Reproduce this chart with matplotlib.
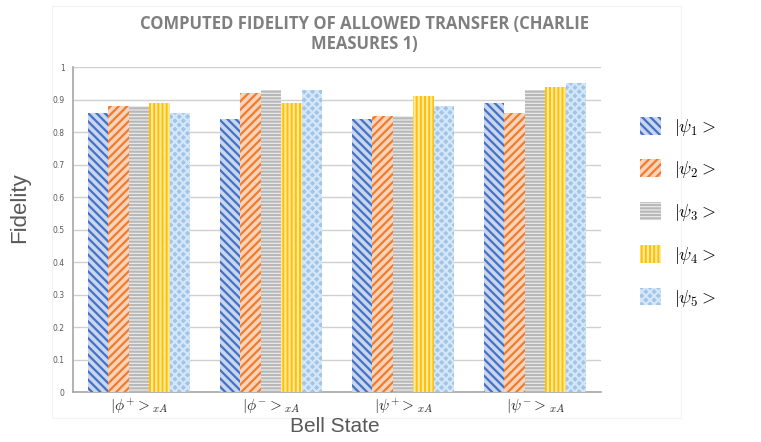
import matplotlib
matplotlib.use("Agg")
import matplotlib.pyplot as plt
from matplotlib.patches import Rectangle
import numpy as np

categories = [r"$|\phi^{+} >_{xA}$", r"$|\phi^{-} >_{xA}$", r"$|\psi^{+} >_{xA}$", r"$|\psi^{-} >_{xA}$"]
series_labels = [r"$|\psi_1 >$", r"$|\psi_2 >$", r"$|\psi_3 >$", r"$|\psi_4 >$", r"$|\psi_5 >$"]
psi1 = [0.86, 0.84, 0.84, 0.89]
psi2 = [0.88, 0.92, 0.85, 0.86]
psi3 = [0.88, 0.93, 0.85, 0.93]
psi4 = [0.89, 0.89, 0.91, 0.94]
psi5 = [0.86, 0.93, 0.88, 0.95]
yticks = [0, 0.1, 0.2, 0.3, 0.4, 0.5, 0.6, 0.7, 0.8, 0.9, 1]

plt.rcParams["mathtext.fontset"] = "cm"
plt.rcParams["hatch.linewidth"] = 1.6

# fill patterns for the five series
styles = [
    dict(face="#C9D6EE", hatch="\\\\\\\\", edge="#4472C4"),
    dict(face="#FBD3B8", hatch="////", edge="#ED7D31"),
    dict(face="#EFEFEF", hatch="-----", edge="#B8B8B8"),
    dict(face="#FFC000", hatch="||||", edge="#FFE8A0"),
    dict(face="#9FC5E8", hatch="xxxx", edge="#D4E6F7"),
]

fig = plt.figure(figsize=(7.61, 4.42), dpi=100)

# faint chart-area frame
fig.patches.append(Rectangle((52 / 761, 1 - 418 / 442), (681 - 52) / 761, (418 - 6) / 442,
                             transform=fig.transFigure, fill=False,
                             edgecolor="#F3F3F3", linewidth=0.8, zorder=0))

ax = fig.add_axes([0.096, 0.113, 0.694, 0.735])

x = np.arange(len(categories))
width = 0.155
series = [psi1, psi2, psi3, psi4, psi5]
handles = []
for i, (vals, st) in enumerate(zip(series, styles)):
    offs = (i - 2) * width
    bars = ax.bar(x + offs, vals, width, color=st["face"], hatch=st["hatch"],
                  edgecolor=st["edge"], linewidth=0, label=series_labels[i], zorder=3)
    handles.append(bars)

ax.set_xlim(-0.5, 3.5)
ax.set_ylim(0, 1)
ax.set_yticks(yticks)
ax.set_yticklabels([f"{t:g}" for t in yticks], fontsize=5.5, color="#595959")
ax.set_xticks(x)
ax.set_xticklabels(categories, fontsize=11, color="#222222")
ax.tick_params(axis="both", length=0)
ax.tick_params(axis="y", pad=6)
ax.grid(axis="y", color="#D0D0D0", linewidth=1.0, zorder=0)
for s in ["top", "right"]:
    ax.spines[s].set_visible(False)
for s in ["left", "bottom"]:
    ax.spines[s].set_color("#A6A6A6")
    ax.spines[s].set_linewidth(1.2)

fig.text(20 / 761, 1 - 208 / 442, "Fidelity", rotation=90, ha="center", va="center",
         fontsize=16, color="#595959", family="Liberation Sans")
fig.text(335 / 761, 1 - 427 / 442, "Bell State", ha="center", va="center",
         fontsize=15, color="#595959", family="Liberation Sans")

fig.text(364 / 761, 1 - 34 / 442, "COMPUTED FIDELITY OF ALLOWED TRANSFER (CHARLIE\nMEASURES 1)",
         ha="center", va="center", fontsize=12, fontweight="bold",
         color="#7F7F7F", family="Open Sans", linespacing=1.2)

fig.legend(handles=handles, labels=series_labels, loc="upper left",
           bbox_to_anchor=(0.82, 0.773), frameon=False, fontsize=13,
           handlelength=1.15, handleheight=1.15, labelspacing=1.2, handletextpad=0.7)

fig.savefig("out.png", dpi=100)
